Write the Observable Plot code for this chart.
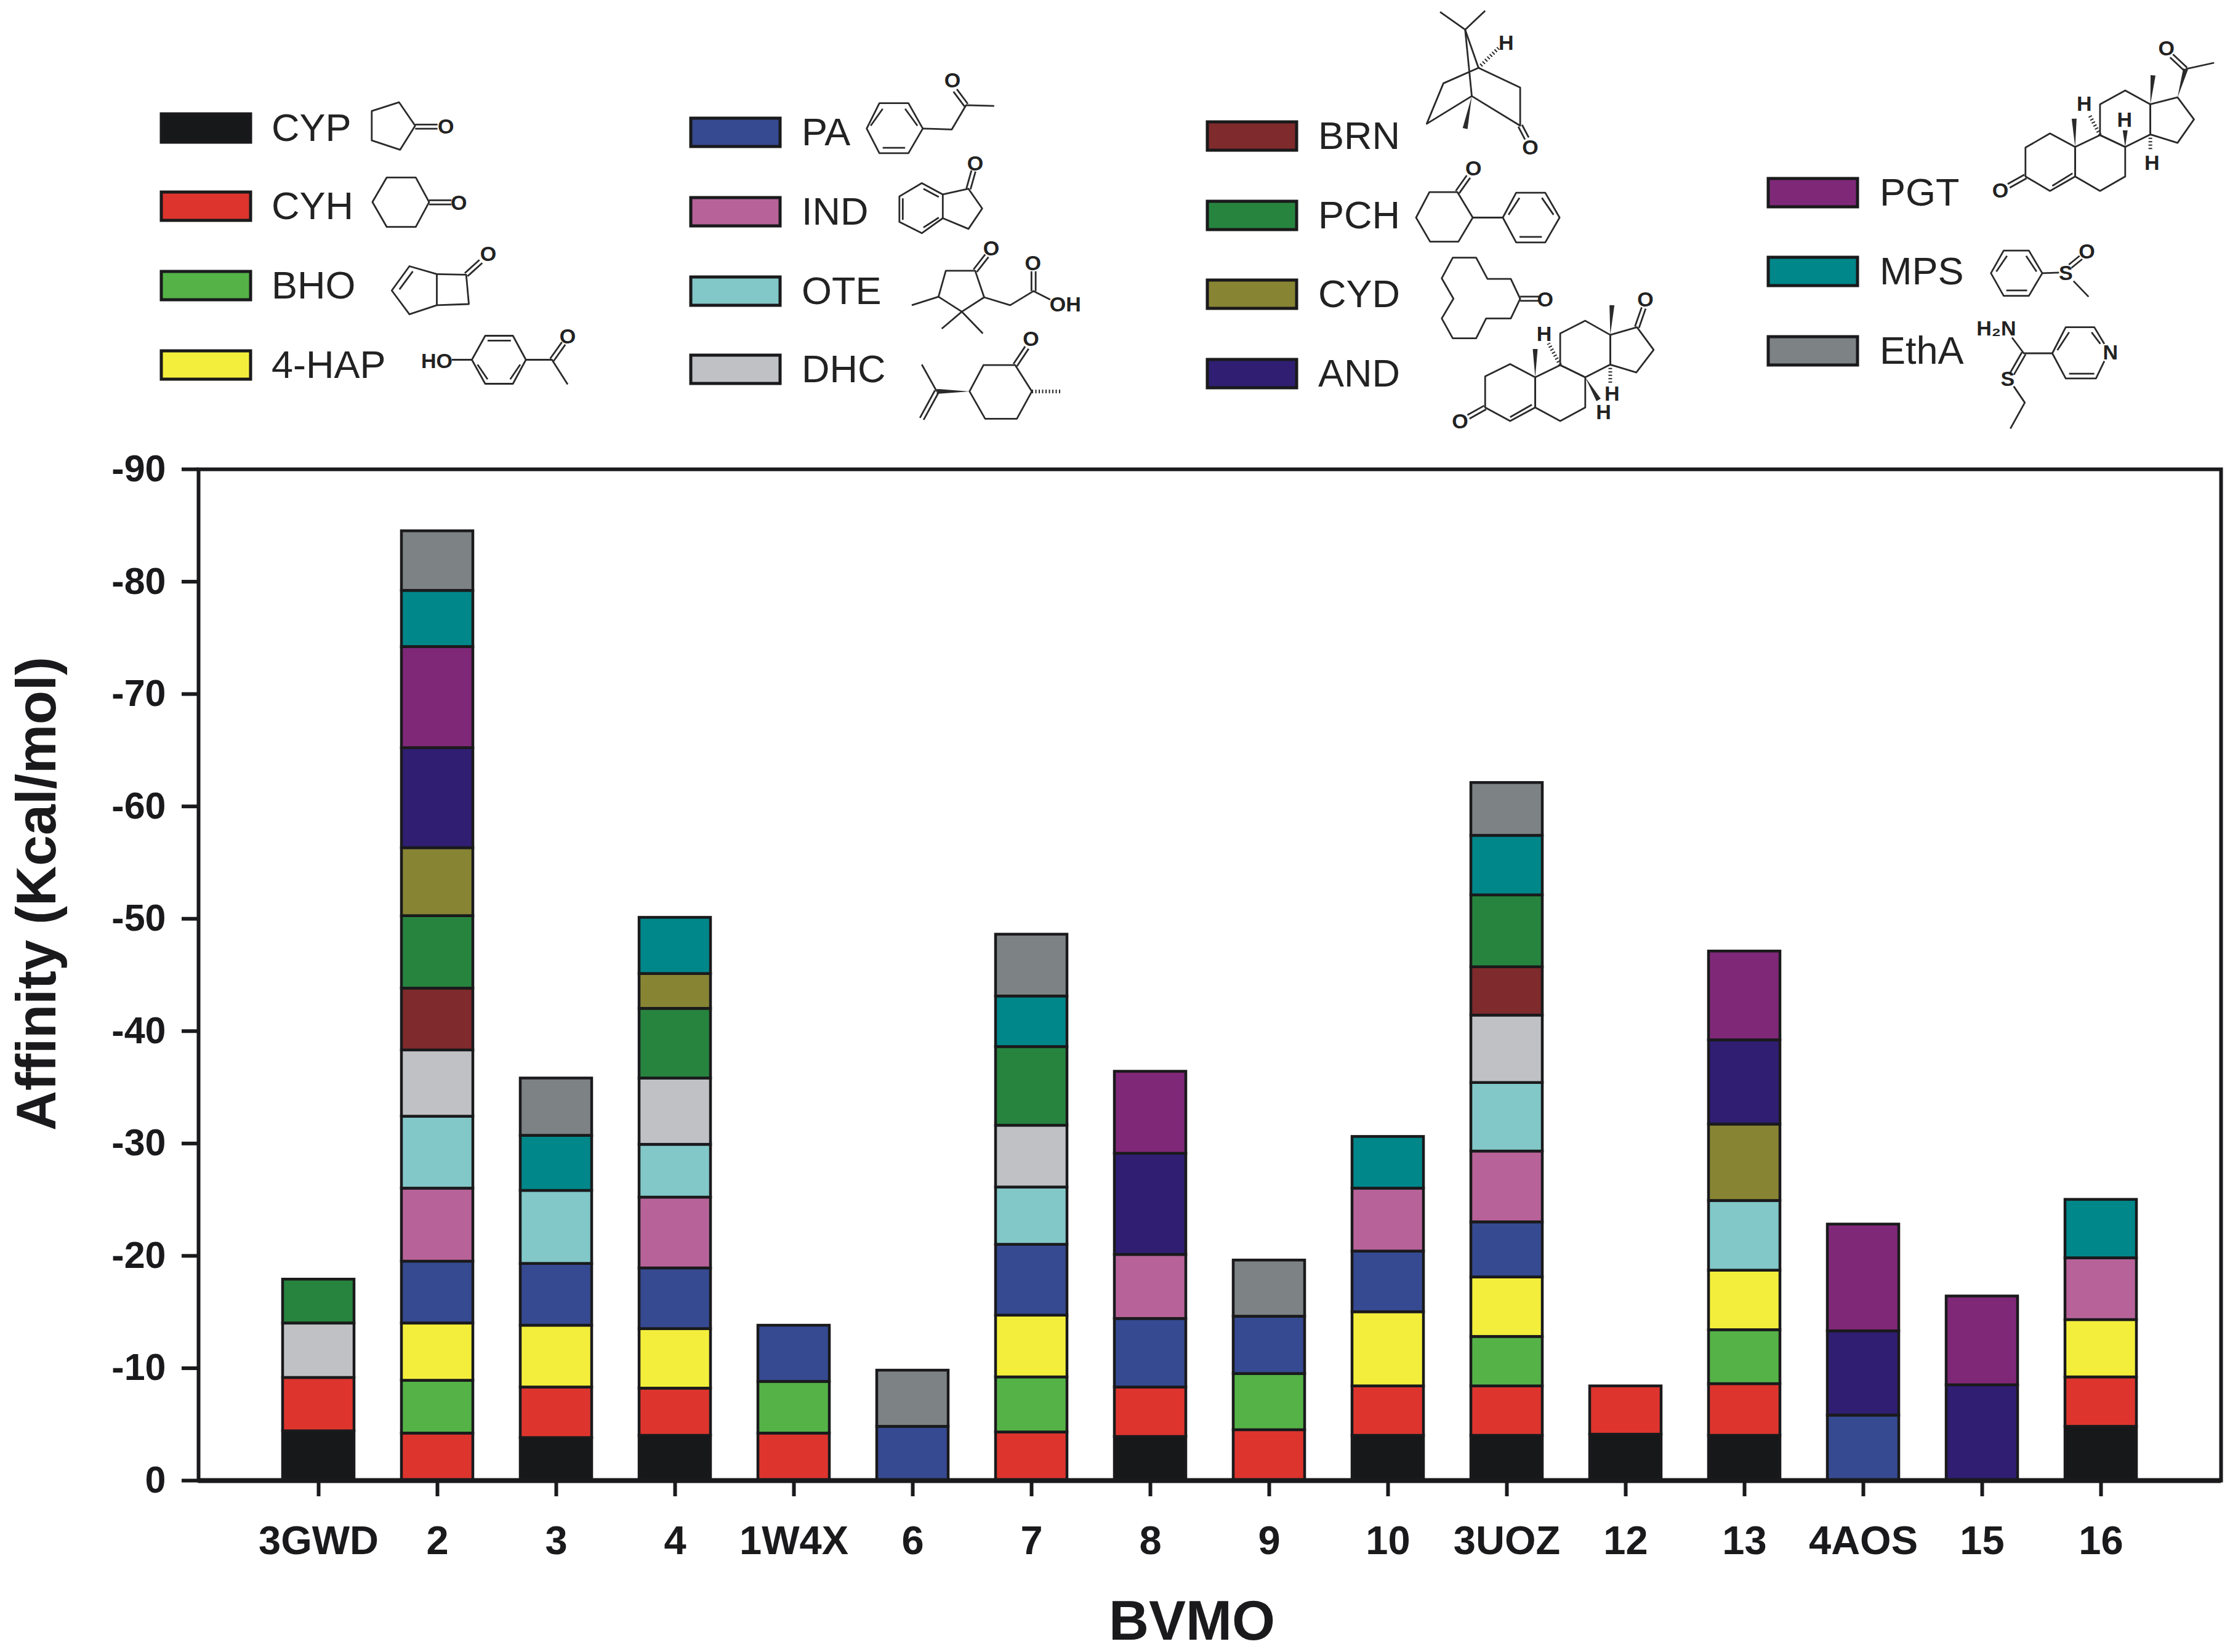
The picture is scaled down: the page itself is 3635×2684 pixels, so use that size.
<!DOCTYPE html>
<html>
<head>
<meta charset="utf-8">
<script src="https://cdn.jsdelivr.net/npm/d3@7"></script>
<script src="https://cdn.jsdelivr.net/npm/@observablehq/plot@0.6"></script>
<style>
html,body{margin:0;padding:0;background:#fff;}
#legend{display:block;}
</style>
</head>
<body>
<script>
// ---------- data ----------
const bvmo = ["3GWD","2","3","4","1W4X","6","7","8","9","10","3UOZ","12","13","4AOS","15","16"];
const ligands = ["CYP","CYH","BHO","4-HAP","PA","IND","OTE","DHC","BRN","PCH","CYD","AND","PGT","MPS","EthA"];
const colors = ["#17181a","#dd352e","#55b247","#f3ee3b","#364a92","#b76399","#82c8c8","#bfc1c4","#7f2a2c","#27843f","#878434","#2f1e72","#7f2878","#00878a","#7d8285"];
const yTicks = [0,-10,-20,-30,-40,-50,-60,-70,-80,-90];

const CYP  = [4.4,0,3.8,4.0,0,0,0,3.9,0,4.0,4.0,4.1,4.0,0,0,4.8];
const CYH  = [4.75,4.2,4.5,4.2,4.2,0,4.3,4.4,4.5,4.4,4.4,4.3,4.6,0,0,4.4];
const BHO  = [0,4.7,0,0,4.6,0,4.9,0,5.0,0,4.4,0,4.8,0,0,0];
const HAP  = [0,5.1,5.5,5.3,0,0,5.5,0,0,6.6,5.3,0,5.3,0,0,5.1];
const PA   = [0,5.5,5.5,5.4,5.0,4.8,6.3,6.1,5.1,5.4,4.9,0,0,5.8,0,0];
const IND  = [0,6.5,0,6.3,0,0,0,5.7,0,5.6,6.3,0,0,0,0,5.5];
const OTE  = [0,6.4,6.5,4.7,0,0,5.1,0,0,0,6.1,0,6.2,0,0,0];
const DHC  = [4.85,5.9,0,5.9,0,0,5.5,0,0,0,6.0,0,0,0,0,0];
const BRN  = [0,5.5,0,0,0,0,0,0,0,0,4.3,0,0,0,0,0];
const PCH  = [3.9,6.45,0,6.2,0,0,7.0,0,0,0,6.4,0,0,0,0,0];
const CYD  = [0,6.05,0,3.1,0,0,0,0,0,0,0,0,6.8,0,0,0];
const AND  = [0,8.9,0,0,0,0,0,9.0,0,0,0,0,7.5,7.5,8.5,0];
const PGT  = [0,9.0,0,0,0,0,0,7.3,0,0,0,0,7.9,9.5,7.9,0];
const MPS  = [0,5.0,4.9,5.0,0,0,4.5,0,0,4.6,5.3,0,0,0,0,5.2];
const EthA = [0,5.3,5.1,0,0,5.0,5.5,0,5.0,0,4.7,0,0,0,0,0];
const series = [CYP,CYH,BHO,HAP,PA,IND,OTE,DHC,BRN,PCH,CYD,AND,PGT,MPS,EthA];

const rows = [];
ligands.forEach((lig,s)=>series[s].forEach((v,i)=>{ if(v) rows.push({bvmo:bvmo[i],ligand:lig,affinity:-v}); }));

// ---------- layout ----------
const W = 3635, H = 2684, HEAD = 720;
const INK = "#1a1a1c";
const FONT = '"Liberation Sans", Arial, sans-serif';

// ---------- legend with structures, above the plot ----------
const columns = [
  {x:260,  tx:441,  names:["CYP","CYH","BHO","4-HAP"], bottoms:[233,360,489,618]},
  {x:1120, tx:1302, names:["PA","IND","OTE","DHC"],    bottoms:[240,369,498,625]},
  {x:1959, tx:2141, names:["BRN","PCH","CYD","AND"],   bottoms:[246,375,503,632]},
  {x:2870, tx:3053, names:["PGT","MPS","EthA"],        bottoms:[338,466,595]}
];
const leg = d3.create("svg").attr("id","legend").attr("width",W).attr("height",HEAD)
  .attr("viewBox",`0 0 ${W} ${HEAD}`).style("font-family",FONT);
for (const c of columns) c.names.forEach((n,i)=>{
  leg.append("rect").attr("x",c.x+2).attr("y",c.bottoms[i]-48).attr("width",145).attr("height",46)
    .attr("fill",colors[ligands.indexOf(n)]).attr("stroke",INK).attr("stroke-width",5);
  leg.append("text").attr("x",c.tx).attr("y",c.bottoms[i]-4).attr("font-size",63).attr("fill","#222").text(n);
});

const panels = [
  {x0:200, xs:1.845, ys:2.178},
  {x0:1050,xs:1.845, ys:2.178},
  {x0:1900,xs:1.845, ys:2.178},
  {x0:2780,xs:1.834, ys:1.96}
];
const molecules = [
 {p:0, rings:[[745,393,827,362,875,445,830,530,745,497],[790,628,877,628,917,715,877,803,790,803,747,715],
   [940,970,858,942,805,1028,858,1112,940,1080],[940,970,1028,972,1036,1076,940,1080],
   [1085,1188,1168,1188,1207,1273,1168,1358,1085,1358,1045,1273]],
  lines:[[868,960,828,1024],[985,1273,1045,1273],[1092,1205,1162,1205],[1190,1290,1160,1342],[1062,1290,1092,1342],[1207,1273,1285,1273,1332,1360]],
  dbl:[[875,448,942,448],[917,716,984,716],[1028,972,1072,925],[1285,1273,1320,1215]],
  atoms:[["O",967,447],["O",1006,716],["O",1094,898],["HO",940,1277],["O",1332,1190]]},
 {p:1, rings:[[698,365,785,365,828,455,785,542,698,542,660,455],[825,648,888,688,888,772,825,825,758,785,758,695],
   [897,958,985,958,1012,1052,945,1103,875,1050],[1010,1292,1105,1292,1155,1385,1110,1482,1015,1482,968,1385]],
  lines:[[708,385,672,445],[775,385,812,445],[708,523,775,523],[828,455,915,458,958,372,1042,375],
   [830,668,876,697],[768,702,768,778],[830,805,876,770],[888,688,965,668,1006,738,965,810,888,772],
   [875,1050,795,1080],[885,1163,945,1103,1008,1180],[1012,1052,1090,1080,1160,1030,1210,1060],[870,1385,825,1290]],
  dbl:[[958,372,925,320],[965,668,980,605],[985,958,1020,905],[1160,1030,1160,960],[1105,1292,1140,1230],[870,1385,825,1482]],
  wedge:[[968,1385,870,1385]], hash:[[1155,1385,1245,1385]],
  atoms:[["O",917,283],["O",985,578],["O",1033,878],["O",1158,930],["OH",1255,1075],["O",1152,1197]]},
 {p:2, rings:[[905,340,770,438,820,295,925,240,1050,310,1050,445],
   [778,680,862,680,908,770,865,855,780,855,738,770],[1038,682,1125,682,1168,770,1125,858,1038,858,998,770],
   [848,912,918,912,952,987,1022,987,1050,1057,1022,1127,948,1127,918,1197,848,1197,815,1127,850,1057,815,985],
   [945,1332,1020,1288,1095,1335,1095,1442,1020,1490,945,1442],[1095,1335,1170,1292,1245,1335,1245,1442,1170,1490,1095,1442],
   [1170,1292,1170,1180,1245,1135,1320,1185,1320,1290,1245,1335],[1320,1185,1400,1158,1450,1238,1398,1318,1320,1290]],
  lines:[[810,42,885,105,945,38],[885,105,925,240],[885,105,905,340],[908,770,998,770],
   [1048,700,1015,760],[1115,700,1150,760],[1048,838,1115,838],[1020,1476,1085,1432]],
  dbl:[[1050,445,1070,490],[862,680,895,625],[1050,1057,1108,1057],[945,1442,895,1475],[1400,1158,1420,1090]],
  wedge:[[905,340,885,455],[1095,1335,1095,1235],[1320,1185,1325,1080],[1245,1335,1285,1415]],
  hash:[[925,240,985,170],[1170,1292,1135,1215],[1320,1290,1320,1360]],
  atoms:[["H",1008,150],["O",1080,520],["O",910,595],["O",1125,1058],["O",1425,1058],["O",870,1490],["H",1122,1180],["H",1325,1392],["H",1300,1458]]},
 {p:3, rings:[[935,470,1008,425,1083,468,1083,562,1008,608,935,562],[1083,468,1157,430,1232,468,1232,562,1157,608,1083,562],
   [1157,430,1157,332,1232,288,1307,332,1307,428,1232,468],[1307,332,1388,310,1437,380,1388,455,1307,428],
   [870,798,945,798,985,870,945,942,870,942,832,870],[1015,1125,1055,1042,1140,1042,1170,1095],[1015,1125,1055,1205,1145,1205,1170,1150]],
  lines:[[1015,592,1075,552],[1412,220,1497,200],[880,815,848,865],[937,815,968,865],[878,925,940,925],[985,870,1035,868],[1078,895,1123,945],
   [895,1075,930,1125,1015,1125],[1065,1058,1030,1115],[1065,1190,1140,1190],[1132,1058,1158,1095],[900,1230,933,1282,890,1365]],
  dbl:[[935,562,885,592],[1412,220,1370,178],[1068,848,1100,820],[930,1125,895,1190]],
  wedge:[[1083,468,1080,378],[1307,332,1315,240],[1388,310,1412,220],[1232,468,1232,415]],
  hash:[[1157,430,1125,365],[1307,428,1307,480]],
  atoms:[["H",1110,330],["H",1312,518],["H",1230,380],["O",860,605],["O",1355,152],["S",1055,868],["O",1118,800],["H₂N",848,1045],["N",1188,1122],["S",882,1205]]}
];
const molG = leg.append("g").attr("fill","none").attr("stroke","#2a2a2a").attr("stroke-width",2.8).attr("stroke-linejoin","round");
for (const m of molecules) {
  const P = panels[m.p], X = x=>P.x0+x/P.xs, Y = y=>y/P.ys;
  const pts = a=>{const o=[];for(let i=0;i<a.length;i+=2)o.push(X(a[i]).toFixed(1)+","+Y(a[i+1]).toFixed(1));return o.join(" ");};
  (m.rings||[]).forEach(a=>molG.append(a.length>=10?"polygon":"polyline").attr("points",pts(a)));
  (m.lines||[]).forEach(a=>molG.append("polyline").attr("points",pts(a)));
  (m.dbl||[]).forEach(([a,b,c,d])=>{
    const x1=X(a),y1=Y(b),x2=X(c),y2=Y(d),l=Math.hypot(x2-x1,y2-y1),nx=-(y2-y1)/l*3.4,ny=(x2-x1)/l*3.4;
    [1,-1].forEach(s=>molG.append("line").attr("x1",x1+s*nx).attr("y1",y1+s*ny).attr("x2",x2+s*nx).attr("y2",y2+s*ny));
  });
  (m.wedge||[]).forEach(([a,b,c,d])=>{
    const x1=X(a),y1=Y(b),x2=X(c),y2=Y(d),l=Math.hypot(x2-x1,y2-y1),nx=-(y2-y1)/l*4,ny=(x2-x1)/l*4;
    molG.append("polygon").attr("fill","#2a2a2a").attr("stroke","none")
      .attr("points",`${x1},${y1} ${x2+nx},${y2+ny} ${x2-nx},${y2-ny}`);
  });
  (m.hash||[]).forEach(([a,b,c,d])=>molG.append("line").attr("x1",X(a)).attr("y1",Y(b)).attr("x2",X(c)).attr("y2",Y(d))
    .attr("stroke-width",6).attr("stroke-dasharray","2 3.5"));
  (m.atoms||[]).forEach(([t,x,y])=>leg.append("text").attr("x",X(x)).attr("y",Y(y)+12).attr("text-anchor","middle")
    .attr("font-size",34).attr("font-weight","bold").attr("fill","#222").text(t));
}
document.body.appendChild(leg.node());

// ---------- plot ----------
const chart = Plot.plot({
  width: W,
  height: H - HEAD,
  marginTop: 762 - HEAD,
  marginBottom: H - 2405,
  marginLeft: 322,
  marginRight: W - 3607,
  style: {background:"#fff", color:INK, fontFamily:FONT, overflow:"visible"},
  x: {type:"band", domain:bvmo, range:[419.5,3509.5], paddingInner:0.4, paddingOuter:0.2, label:null},
  y: {domain:[0,-90], label:null},
  color: {domain:ligands, range:colors},
  marks: [
    Plot.barY(rows,{x:"bvmo",y:"affinity",fill:"ligand",stroke:INK,strokeWidth:4.5}),
    Plot.frame({stroke:INK,strokeWidth:6}),
    Plot.ruleY([0],{stroke:INK,strokeWidth:8}),
    Plot.axisY({ticks:yTicks,tickFormat:d=>String(d),tickSize:27,tickPadding:26,strokeWidth:6,
      fontSize:61,fontWeight:"bold",label:null}),
    Plot.axisX({tickSize:26,tickPadding:47,strokeWidth:6,fontSize:65,fontWeight:"bold",label:null}),
    Plot.text(["BVMO"],{frameAnchor:"bottom",lineAnchor:"bottom",dx:-29,dy:258,fontSize:90,fontWeight:"bold",fill:INK}),
    Plot.text(["Affinity (Kcal/mol)"],{frameAnchor:"left",rotate:-90,textAnchor:"middle",lineAnchor:"bottom",dx:-233,dy:-132,fontSize:90,fontWeight:"bold",fill:INK})
  ]
});
document.body.appendChild(chart);
</script>
</body>
</html>
